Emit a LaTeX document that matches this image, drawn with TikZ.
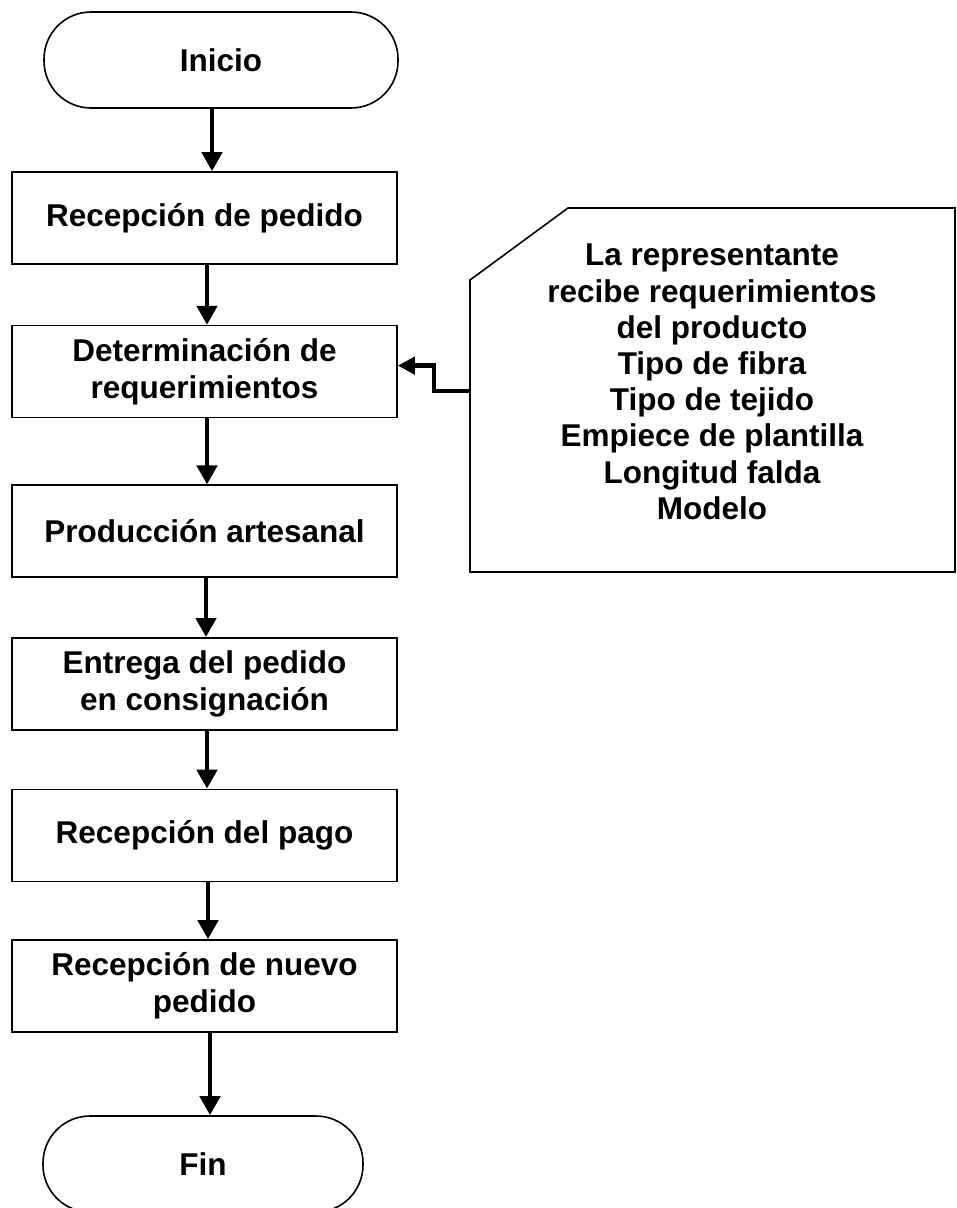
\documentclass[tikz,border=0pt]{standalone}
\usepackage{fontspec}
\setmainfont{Liberation Sans}
\usepackage{tikz}
\usetikzlibrary{arrows.meta,positioning,calc}

\begin{document}
\begin{tikzpicture}[x=1pt,y=-1pt,
    proceso/.style={draw,line width=1.6pt,minimum width=385pt,minimum height=92pt,align=center,inner sep=0pt,font=\fontsize{31.5}{37}\selectfont\bfseries},
    terminal/.style={draw,line width=1.6pt,rounded corners=47pt,minimum height=96pt,inner sep=0pt,font=\fontsize{31.5}{37}\selectfont\bfseries},
    flecha/.style={line width=4.6pt,-{Triangle[length=19pt,width=20pt]}},
    flechab/.style={line width=4.6pt,-{Triangle[length=17pt,width=17pt]}}]
        \useasboundingbox (0,0) rectangle (957,1208);
        \node[terminal,minimum width=354pt] (ini) at (221,60) {Inicio};
        \node[proceso] (b1) at (204.5,218) {Recepción de pedido};
        \node[proceso,below=60pt of b1] (b2) {Determinación de\\requerimientos};
        \node[proceso,below=66pt of b2] (b3) {Producción artesanal};
        \node[proceso,below=59pt of b3] (b4) {Entrega del pedido\\en consignación};
        \node[proceso,below=58pt of b4] (b5) {Recepción del pago};
        \node[proceso,below=57pt of b5] (b6) {Recepción de nuevo\\pedido};
        \node[terminal,minimum width=320pt] (fin) at (203,1164) {Fin};
        % tarjeta de requerimientos
        \draw[line width=1.6pt] (568,208) -- (955,208) -- (955,572) -- (470,572) -- (470,280) -- cycle;
        \node[align=center,font=\fontsize{31.5}{36.2}\selectfont\bfseries] (req) at (712,382) {La representante\\recibe requerimientos\\del producto\\Tipo de fibra\\Tipo de tejido\\Empiece de plantilla\\Longitud falda\\Modelo};
        \coordinate (cardL) at (470,391);
        \draw[flecha] ($(ini.south)+(-9,0)$) -- ($(b1.north)+(7.5,0)$);
        \draw[flecha] ($(b1.south)+(2.5,0)$) -- ($(b2.north)+(2.5,0)$);
        \draw[flecha] ($(b2.south)+(2.5,0)$) -- ($(b3.north)+(2.5,0)$);
        \draw[flecha] ($(b3.south)+(1.5,0)$) -- ($(b4.north)+(1.5,0)$);
        \draw[flecha] ($(b4.south)+(2.5,0)$) -- ($(b5.north)+(2.5,0)$);
        \draw[flecha] ($(b5.south)+(3.5,0)$) -- ($(b6.north)+(3.5,0)$);
        \draw[flecha] ($(b6.south)+(5.5,0)$) -- ($(fin.north)+(7,0)$);
        \draw[flechab] (cardL) -- ++(-36,0) |- ([yshift=6pt]b2.east);
      \end{tikzpicture}
\end{document}
